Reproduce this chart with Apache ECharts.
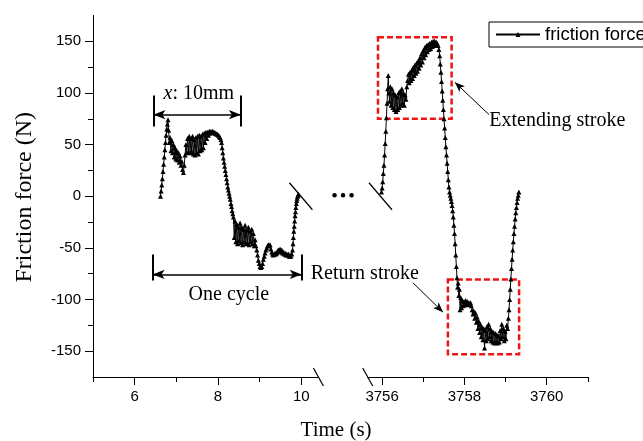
<!DOCTYPE html>
<html><head><meta charset="utf-8">
<script src="https://cdn.jsdelivr.net/npm/echarts@6/dist/echarts.min.js"></script>
<style>html,body{margin:0;padding:0;background:#fff}#c{width:643px;height:441px}</style>
</head><body><div id="c"></div>
<script>
// ---------- data ----------
const yMajorTicks = [-150,-100,-50,0,50,100,150];
const yMinorTicks = [-125,-75,-25,25,75,125];
const leftMajorTicks = [6,8,10];
const leftMinorTicks = [5,7,9];
const rightMajorTicks = [3756,3758,3760];
const rightMinorTicks = [3757,3759,3761];
const seriesName = 'friction force';

// first recorded cycle (time s, force N)
const firstCycle = [[6.62,0],[6.635,5],[6.65,11],[6.665,17],[6.68,24],[6.695,31],[6.71,38],[6.725,45],[6.74,52],[6.755,59],[6.77,65],[6.785,70],[6.8,74],[6.815,64],[6.83,52],[6.85,57],[6.87,44],[6.89,54],[6.91,42],[6.93,50],[6.95,38],[6.97,47],[6.99,36],[7.01,44],[7.03,35],[7.05,42],[7.07,33],[7.09,39],[7.11,30],[7.13,34],[7.15,26],[7.17,23],[7.19,30],[7.21,40],[7.23,50],[7.25,42],[7.27,56],[7.29,43],[7.31,58],[7.33,42],[7.35,56],[7.37,43],[7.39,58],[7.41,41],[7.43,55],[7.45,40],[7.47,57],[7.49,42],[7.51,58],[7.53,41],[7.55,59],[7.57,44],[7.59,58],[7.61,45],[7.63,60],[7.65,47],[7.67,61],[7.69,52],[7.71,62],[7.73,56],[7.75,62],[7.77,59],[7.79,63],[7.81,61],[7.83,63],[7.85,62],[7.87,63],[7.89,62],[7.91,62],[7.93,61],[7.95,61],[7.97,60],[7.99,60],[8.01,59],[8.03,58],[8.05,57],[8.07,55],[8.085,52],[8.1,47],[8.115,42],[8.13,37],[8.145,33],[8.16,29],[8.175,25],[8.19,21],[8.205,17],[8.22,13],[8.235,9],[8.25,6],[8.265,3],[8.28,0],[8.295,-3],[8.31,-7],[8.325,-10],[8.34,-14],[8.355,-17],[8.37,-20],[8.39,-40],[8.41,-24],[8.43,-44],[8.45,-27],[8.47,-46],[8.49,-30],[8.51,-43],[8.53,-26],[8.55,-45],[8.57,-30],[8.59,-47],[8.61,-32],[8.63,-44],[8.65,-28],[8.67,-46],[8.69,-33],[8.71,-45],[8.73,-30],[8.75,-47],[8.77,-34],[8.79,-44],[8.81,-32],[8.83,-46],[8.85,-36],[8.87,-48],[8.89,-42],[8.91,-48],[8.93,-52],[8.95,-57],[8.97,-62],[8.99,-65],[9.01,-68],[9.03,-69],[9.05,-68],[9.07,-65],[9.09,-61],[9.11,-58],[9.13,-55],[9.15,-52],[9.17,-50],[9.19,-48],[9.21,-47],[9.23,-48],[9.25,-47],[9.27,-51],[9.29,-54],[9.31,-56],[9.33,-57],[9.35,-56],[9.37,-55],[9.39,-56],[9.41,-55],[9.43,-53],[9.45,-52],[9.47,-54],[9.49,-51],[9.51,-53],[9.53,-52],[9.55,-55],[9.57,-54],[9.59,-56],[9.61,-55],[9.63,-57],[9.65,-56],[9.67,-57],[9.69,-56],[9.71,-58],[9.73,-57],[9.75,-58],[9.77,-56],[9.79,-52],[9.8,-46],[9.81,-40],[9.82,-34],[9.83,-29],[9.84,-24],[9.85,-19],[9.86,-15],[9.87,-11],[9.88,-7],[9.89,-4],[9.9,-2],[9.91,0],[9.92,1],[9.93,2]];

// last recorded cycle (time s, force N)
const lastCycle = [[3755.985,4],[3756.0,8],[3756.015,14],[3756.03,22],[3756.045,30],[3756.06,40],[3756.075,51],[3756.09,63],[3756.105,76],[3756.12,90],[3756.135,104],[3756.15,117],[3756.165,100],[3756.18,92],[3756.2,106],[3756.22,88],[3756.24,104],[3756.26,86],[3756.28,100],[3756.3,84],[3756.32,98],[3756.34,82],[3756.36,96],[3756.38,84],[3756.4,100],[3756.42,86],[3756.44,102],[3756.46,88],[3756.48,104],[3756.5,90],[3756.52,100],[3756.54,88],[3756.56,98],[3756.58,94],[3756.6,106],[3756.62,112],[3756.64,118],[3756.66,110],[3756.68,120],[3756.7,112],[3756.72,122],[3756.74,114],[3756.76,125],[3756.78,117],[3756.8,127],[3756.82,119],[3756.84,129],[3756.86,121],[3756.88,131],[3756.9,124],[3756.92,134],[3756.94,127],[3756.96,138],[3756.98,130],[3757.0,141],[3757.02,134],[3757.04,144],[3757.06,137],[3757.08,146],[3757.1,140],[3757.12,147],[3757.14,142],[3757.16,148],[3757.18,143],[3757.2,149],[3757.22,145],[3757.24,150],[3757.26,146],[3757.28,150],[3757.3,147],[3757.32,149],[3757.34,148],[3757.36,146],[3757.38,142],[3757.4,136],[3757.415,128],[3757.43,120],[3757.445,111],[3757.46,102],[3757.475,93],[3757.49,84],[3757.505,75],[3757.52,66],[3757.535,57],[3757.55,48],[3757.565,40],[3757.58,32],[3757.595,24],[3757.61,16],[3757.625,9],[3757.64,4],[3757.655,1],[3757.67,-2],[3757.685,-5],[3757.7,-9],[3757.715,-14],[3757.73,-20],[3757.745,-28],[3757.76,-36],[3757.775,-46],[3757.79,-57],[3757.805,-68],[3757.82,-79],[3757.835,-88],[3757.85,-84],[3757.865,-96],[3757.88,-90],[3757.895,-110],[3757.91,-98],[3757.93,-108],[3757.95,-101],[3757.97,-106],[3757.99,-102],[3758.01,-105],[3758.03,-101],[3758.05,-104],[3758.07,-102],[3758.09,-105],[3758.11,-103],[3758.13,-104],[3758.15,-103],[3758.17,-106],[3758.19,-110],[3758.21,-114],[3758.23,-111],[3758.25,-118],[3758.27,-113],[3758.29,-122],[3758.31,-117],[3758.33,-128],[3758.35,-121],[3758.37,-132],[3758.39,-124],[3758.41,-136],[3758.43,-127],[3758.45,-139],[3758.47,-128],[3758.49,-147],[3758.51,-130],[3758.53,-140],[3758.55,-126],[3758.57,-138],[3758.59,-124],[3758.61,-136],[3758.63,-128],[3758.65,-140],[3758.67,-131],[3758.69,-141],[3758.71,-132],[3758.73,-142],[3758.75,-133],[3758.77,-141],[3758.79,-134],[3758.81,-142],[3758.83,-135],[3758.85,-141],[3758.87,-130],[3758.89,-138],[3758.91,-124],[3758.93,-136],[3758.95,-128],[3758.97,-140],[3758.99,-131],[3759.01,-138],[3759.03,-125],[3759.05,-128],[3759.07,-118],[3759.085,-110],[3759.1,-100],[3759.115,-90],[3759.13,-80],[3759.145,-70],[3759.16,-61],[3759.175,-52],[3759.19,-44],[3759.205,-36],[3759.22,-29],[3759.235,-22],[3759.25,-16],[3759.265,-11],[3759.28,-6],[3759.295,-2],[3759.31,1],[3759.325,4]];

// annotation anchors (data coordinates)
const strokeSpan = {x0: 6.45, x1: 8.55, y: 79, barTop: 97.5, barBottom: 67.5};
const cycleSpan = {x0: 6.43, x1: 10.01, y: -75.7, barTop: -56.5, barBottom: -81.5};
const extendBox = [[3755.9,154],[3757.69,75]];
const returnBox = [[3757.6,-80.5],[3759.33,-153]];
const extendArrow = [[3758.60,79],[3757.77,110.3]];
const returnArrow = [[3756.75,-83.8],[3757.48,-112.2]];
const labelSpan = {text: '10mm', at: [7.54, 99]};
const labelCycle = {text: 'One cycle', at: [8.26, -95]};
const labelExtend = {text: 'Extending stroke', at: [3760.26, 73]};
const labelReturn = {text: 'Return stroke', at: [3755.58, -75]};
const breakAt = {left: [9.99, 0], right: [3755.96, 0]};

// ---------- chart ----------
const SANS = "'Liberation Sans', Arial, sans-serif";
const SERIF = "'Liberation Serif', 'Times New Roman', serif";
const Y_MIN = -175, Y_MAX = 175;
const L_MIN = 5, L_MAX = 10.41, R_MIN = 3755.65, R_MAX = 3761;
const plainNum = (v) => String(v);

const chart = echarts.init(document.getElementById('c'), null, {renderer: 'canvas'});

const majorAxis = (extra, vals) => Object.assign({
  type: 'value', splitLine: {show: false},
  axisLine: {show: true, onZero: false, lineStyle: {color: '#000', width: 1}},
  axisTick: {show: true, inside: false, length: 8, customValues: vals, lineStyle: {color: '#000', width: 1}},
  axisLabel: {show: true, color: '#000', fontFamily: SANS, fontSize: 15, margin: 12, customValues: vals, formatter: plainNum},
}, extra);

const minorAxis = (extra, vals) => Object.assign({
  type: 'value', splitLine: {show: false},
  axisLine: {show: false, onZero: false},
  axisTick: {show: true, inside: false, length: 5, customValues: vals, lineStyle: {color: '#000', width: 1}},
  axisLabel: {show: false},
}, extra);

const option = {
  animation: false,
  backgroundColor: '#fff',
  grid: [
    {left: 93, top: 15.5, width: 225.4, height: 361.5},
    {left: 367.7, top: 15.5, width: 220.1, height: 361.5}
  ],
  legend: {
    data: [seriesName], left: 489, top: 22, itemWidth: 44, itemHeight: 6, itemGap: 6,
    padding: [3, 10, 3, 6], borderColor: '#000', borderWidth: 1, borderRadius: 0,
    selectedMode: false,
    textStyle: {fontFamily: SANS, fontSize: 18.5, color: '#000'}
  },
  xAxis: [
    majorAxis({gridIndex: 0, min: L_MIN, max: L_MAX, position: 'bottom'}, leftMajorTicks),
    minorAxis({gridIndex: 0, min: L_MIN, max: L_MAX, position: 'bottom'}, leftMinorTicks),
    majorAxis({gridIndex: 1, min: R_MIN, max: R_MAX, position: 'bottom'}, rightMajorTicks),
    minorAxis({gridIndex: 1, min: R_MIN, max: R_MAX, position: 'bottom'}, rightMinorTicks)
  ],
  yAxis: [
    majorAxis({gridIndex: 0, min: Y_MIN, max: Y_MAX, position: 'left'}, yMajorTicks),
    minorAxis({gridIndex: 0, min: Y_MIN, max: Y_MAX, position: 'left'}, yMinorTicks),
    {type: 'value', gridIndex: 1, min: Y_MIN, max: Y_MAX, show: false}
  ],
  series: [
    {
      type: 'line', name: seriesName, xAxisIndex: 0, yAxisIndex: 0, data: firstCycle,
      symbol: 'triangle', symbolSize: 5, showSymbol: true, showAllSymbol: true,
      lineStyle: {color: '#000', width: 1}, itemStyle: {color: '#000'},
      emphasis: {disabled: true}, silent: true, clip: false,
      markLine: {
        silent: true, symbol: ['none', 'none'], symbolSize: [7, 12], animation: false,
        label: {show: false}, emphasis: {disabled: true},
        lineStyle: {color: '#000', type: 'solid', width: 1.5},
        data: [
          [{coord: [strokeSpan.x0, strokeSpan.y], symbol: 'arrow'}, {coord: [strokeSpan.x1, strokeSpan.y], symbol: 'arrow'}],
          [{coord: [strokeSpan.x0, strokeSpan.barTop], lineStyle: {width: 2}}, {coord: [strokeSpan.x0, strokeSpan.barBottom]}],
          [{coord: [strokeSpan.x1, strokeSpan.barTop], lineStyle: {width: 2}}, {coord: [strokeSpan.x1, strokeSpan.barBottom]}],
          [{coord: [cycleSpan.x0, cycleSpan.y], symbol: 'arrow'}, {coord: [cycleSpan.x1, cycleSpan.y], symbol: 'arrow'}],
          [{coord: [cycleSpan.x0, cycleSpan.barTop], lineStyle: {width: 2}}, {coord: [cycleSpan.x0, cycleSpan.barBottom]}],
          [{coord: [cycleSpan.x1, cycleSpan.barTop], lineStyle: {width: 2}}, {coord: [cycleSpan.x1, cycleSpan.barBottom]}]
        ]
      }
    },
    {
      type: 'line', name: seriesName, xAxisIndex: 2, yAxisIndex: 2, data: lastCycle,
      symbol: 'triangle', symbolSize: 5, showSymbol: true, showAllSymbol: true,
      lineStyle: {color: '#000', width: 1}, itemStyle: {color: '#000'},
      emphasis: {disabled: true}, silent: true, clip: false,
      markArea: {
        silent: true, label: {show: false}, emphasis: {disabled: true},
        itemStyle: {color: 'rgba(0,0,0,0)', borderColor: '#f01414', borderWidth: 2.5, borderType: [6, 3]},
        data: [
          [{coord: extendBox[0]}, {coord: extendBox[1]}],
          [{coord: returnBox[0]}, {coord: returnBox[1]}]
        ]
      },
      markLine: {
        silent: true, symbol: ['none', 'arrow'], symbolSize: [6, 10], animation: false,
        label: {show: false}, emphasis: {disabled: true},
        lineStyle: {color: '#000', type: 'solid', width: 1},
        data: [
          [{coord: extendArrow[0]}, {coord: extendArrow[1]}],
          [{coord: returnArrow[0]}, {coord: returnArrow[1]}]
        ]
      }
    }
  ]
};
chart.setOption(option);

// ---------- annotations positioned through the axes ----------
const P = (si, pt) => chart.convertToPixel({seriesIndex: si}, pt);
const txt = (pos, text, extra) => Object.assign({
  type: 'text', x: pos[0], y: pos[1], silent: true,
  style: Object.assign({text: text, fontFamily: SERIF, fontSize: 20, fill: '#000',
    align: 'center', verticalAlign: 'middle', textAlign: 'center', textVerticalAlign: 'middle'}, extra || {})
});
const slash = (c, dx, dy, w) => ({
  type: 'line', silent: true,
  shape: {x1: c[0] - dx, y1: c[1] - dy, x2: c[0] + dx, y2: c[1] + dy},
  style: {stroke: '#000', lineWidth: w}
});

const leftAxisEnd = P(0, [L_MAX, Y_MIN]);
const rightAxisStart = P(1, [R_MIN, Y_MIN]);
const zeroLeft = P(0, breakAt.left);
const zeroRight = P(1, breakAt.right);
const dotsCx = (leftAxisEnd[0] + rightAxisStart[0]) / 2;
const dotsCy = (zeroLeft[1] + zeroRight[1]) / 2 - 1;
const plotTop = P(0, [L_MIN, Y_MAX])[1];
const plotMid = (plotTop + leftAxisEnd[1]) / 2;

const graphics = [
  txt(P(0, labelSpan.at), '{i|x}{n|: ' + labelSpan.text + '}', {
    rich: {i: {fontFamily: SERIF, fontSize: 20, fontStyle: 'italic', fill: '#000'},
           n: {fontFamily: SERIF, fontSize: 20, fill: '#000'}}}),
  txt(P(0, labelCycle.at), labelCycle.text),
  txt(P(1, labelExtend.at), labelExtend.text),
  txt(P(1, labelReturn.at), labelReturn.text),
  txt([dotsCx - 7, leftAxisEnd[1] + 53], 'Time (s)', {fontSize: 21}),
  Object.assign(txt([25, plotMid + 1], 'Friction force (N)', {fontSize: 24}), {rotation: Math.PI / 2}),
  slash(leftAxisEnd, 5, 9, 1.2),
  slash(rightAxisStart, 5, 9, 1.2),
  slash(zeroLeft, 11.5, 13.5, 1.2),
  slash(zeroRight, 11.5, 13.5, 1.2)
];
[-8.5, 0, 8.5].forEach(function (d) {
  graphics.push({type: 'circle', silent: true, shape: {cx: dotsCx + d, cy: dotsCy, r: 2.3}, style: {fill: '#000'}});
});
chart.setOption({graphic: graphics});
</script>
</body></html>
